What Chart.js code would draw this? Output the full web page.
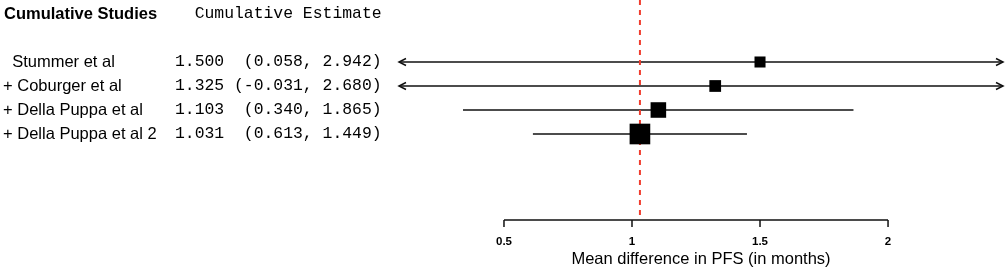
<!DOCTYPE html>
<html>
<head>
<meta charset="utf-8">
<script src="https://cdn.jsdelivr.net/npm/chart.js@4"></script>
<style>
  body { margin: 0; background: #fff; }
  canvas { display: block; }
</style>
</head>
<body>
<canvas id="forest" width="1005" height="270"></canvas>
<script>
// Cumulative meta-analysis data
const studies = ["Stummer et al", "+ Coburger et al", "+ Della Puppa et al", "+ Della Puppa et al 2"];
const estimates = [1.500, 1.325, 1.103, 1.031];
const ciLower = [0.058, -0.031, 0.340, 0.613];
const ciUpper = [2.942, 2.680, 1.865, 1.449];
const tickValues = [0.5, 1, 1.5, 2];
const pooledEstimate = 1.031;
const xLabel = "Mean difference in PFS (in months)";

// plot limits (values outside get an arrow)
const xMin = 0.09;
const xMax = 2.449;
const yMin = -1.583;
const yMax = 7.583;

const sansFont = '"Liberation Sans", Arial, Helvetica, sans-serif';
const monoFont = '"Liberation Mono", "Courier New", Courier, monospace';

const rows = studies.map((s, i) => i + 1);

// Function to format the estimate column like R does
function formatEstimate(i) {
    const lo = ("(" + ciLower[i].toFixed(3) + ",").padStart(8);
    return estimates[i].toFixed(3) + " " + lo + " " + ciUpper[i].toFixed(3) + ")";
}

// one line dataset per confidence interval, clipped to the plot limits
const ciDatasets = rows.map((r, i) => ({
    type: "line",
    data: [
        { x: Math.max(ciLower[i], xMin), y: r },
        { x: Math.min(ciUpper[i], xMax), y: r },
    ],
    borderColor: "#111",
    borderWidth: 1.5,
    pointRadius: 0,
    order: 3,
}));

// text columns, arrowheads and the bottom axis
const forestText = {
    id: "forestText",
    afterDraw(chart) {
        const ctx = chart.ctx;
        const xs = chart.scales.x;
        const ys = chart.scales.y;
        const area = chart.chartArea;
        ctx.save();
        ctx.fillStyle = "#000";
        ctx.textBaseline = "middle";

        ctx.font = "bold 16.5px " + sansFont;
        ctx.fillText("Cumulative Studies", 4, 14);
        ctx.font = "16.4px " + monoFont;
        ctx.fillText("  Cumulative Estimate", 175, 14);

        rows.forEach((r, i) => {
            const y = ys.getPixelForValue(r);
            ctx.font = "16.5px " + sansFont;
            const label = i === 0 ? "  " + studies[i] : studies[i];
            ctx.fillText(label, 3, y);
            ctx.font = "16.4px " + monoFont;
            ctx.fillText(formatEstimate(i), 175, y);
        });

        // arrows where the interval runs past the limits
        ctx.strokeStyle = "#111";
        ctx.lineWidth = 1.5;
        rows.forEach((r, i) => {
            const y = ys.getPixelForValue(r);
            if (ciLower[i] < xMin) {
                const x = xs.getPixelForValue(xMin);
                ctx.beginPath();
                ctx.moveTo(x + 7, y - 3.5);
                ctx.lineTo(x, y);
                ctx.lineTo(x + 7, y + 3.5);
                ctx.stroke();
            }
            if (ciUpper[i] > xMax) {
                const x = xs.getPixelForValue(xMax);
                ctx.beginPath();
                ctx.moveTo(x - 7, y - 3.5);
                ctx.lineTo(x, y);
                ctx.lineTo(x - 7, y + 3.5);
                ctx.stroke();
            }
        });

        // axis line only between the first and last tick
        const axisY = area.bottom;
        ctx.beginPath();
        ctx.moveTo(xs.getPixelForValue(tickValues[0]), axisY);
        ctx.lineTo(xs.getPixelForValue(tickValues[tickValues.length - 1]), axisY);
        tickValues.forEach((v) => {
            const x = xs.getPixelForValue(v);
            ctx.moveTo(x, axisY);
            ctx.lineTo(x, axisY + 7);
        });
        ctx.stroke();

        ctx.textAlign = "center";
        ctx.font = "bold 11.5px " + sansFont;
        tickValues.forEach((v) => {
            ctx.fillText(String(v), xs.getPixelForValue(v), axisY + 22);
        });
        ctx.font = "16.5px " + sansFont;
        ctx.fillText(xLabel, (area.left + area.right) / 2, axisY + 39);
        ctx.restore();
    },
};

const ctx = document.getElementById("forest").getContext("2d");

new Chart(ctx, {
    data: {
        datasets: [
            {
                type: "scatter",
                data: rows.map((r, i) => ({ x: estimates[i], y: r })),
                pointStyle: "rect",
                pointRadius: [7.8, 8.3, 11, 14.6],
                backgroundColor: "#000",
                borderColor: "#000",
                borderWidth: 0,
                order: 1,
            },
            {
                type: "line",
                data: [
                    { x: pooledEstimate, y: yMin },
                    { x: pooledEstimate, y: yMax },
                ],
                borderColor: "rgb(240, 60, 45)",
                borderWidth: 2,
                borderDash: [5, 5],
                pointRadius: 0,
                order: 2,
            },
            ...ciDatasets,
        ],
    },
    options: {
        responsive: false,
        animation: false,
        events: [],
        layout: {
            autoPadding: false,
            padding: { left: 399, right: 2, top: 0, bottom: 50 },
        },
        scales: {
            x: {
                type: "linear",
                display: false,
                min: xMin,
                max: xMax,
            },
            y: {
                type: "linear",
                display: false,
                reverse: true,
                min: yMin,
                max: yMax,
            },
        },
        plugins: {
            legend: { display: false },
            tooltip: { enabled: false },
        },
    },
    plugins: [forestText],
});
</script>
</body>
</html>
